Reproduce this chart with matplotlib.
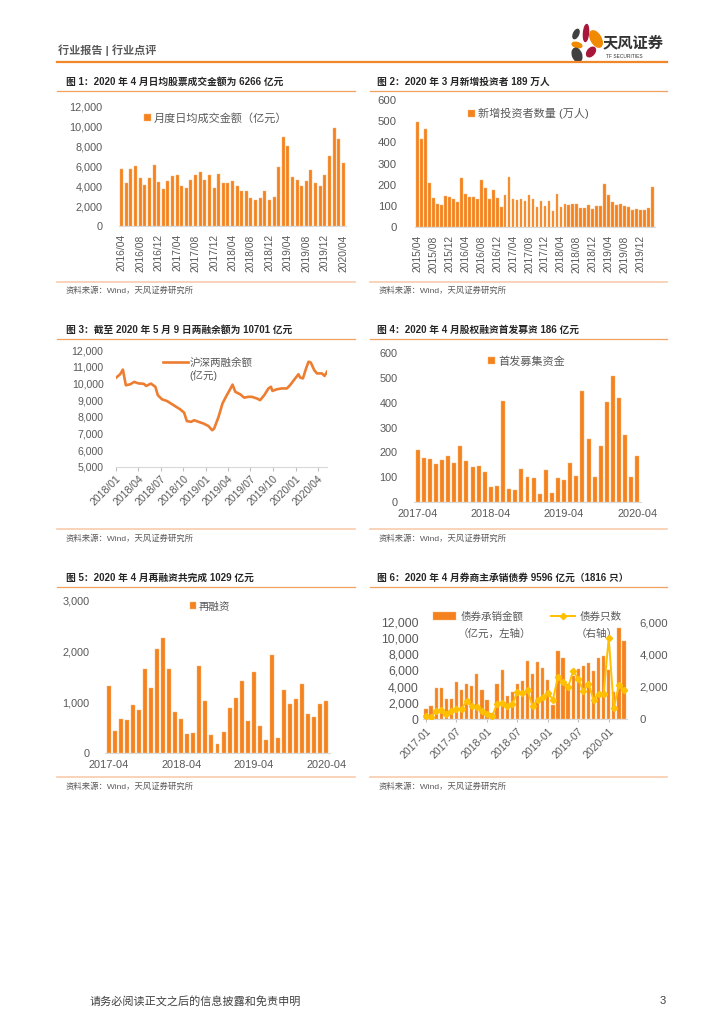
import numpy as np
import pandas as pd
import matplotlib
matplotlib.use("Agg")
import matplotlib.pyplot as plt
from matplotlib.patches import Ellipse
from matplotlib.ticker import FuncFormatter

plt.rcParams['font.family'] = ['Liberation Sans', 'Noto Sans CJK SC', 'DejaVu Sans']

W, H = 724, 1024
ORANGE = '#F4821F'
GREY = '#595959'
TITLE_LINE = '#F0A35E'
SRC_LINE = '#F8CBAD'

# 图1 月度日均成交金额 (亿元), 2016/04 - 2020/04
turnover = [5700, 4300, 5700, 6000, 4850, 4100, 4800, 6150, 4400, 3700, 4500, 5000,
            5100, 4000, 3800, 4600, 5150, 5450, 4650, 5080, 3780, 5180, 4280, 4280,
            4550, 4050, 3480, 3500, 2850, 2580, 2850, 3500, 2650, 2950, 5900, 8900,
            8050, 4900, 4600, 4000, 4500, 5650, 4300, 4050, 5100, 7000, 9800, 8700, 6266]
turnover_ticks = ['2016/04', '2016/08', '2016/12', '2017/04', '2017/08', '2017/12', '2018/04',
                  '2018/08', '2018/12', '2019/04', '2019/08', '2019/12', '2020/04']

# 图2 新增投资者数量 (万人), 2015/04 - 2020/03
investors = [498, 415, 465, 207, 136, 107, 106, 147, 142, 134, 117, 230,
             156, 144, 144, 131, 220, 185, 133, 174, 139, 96, 153, 234,
             130, 126, 133, 123, 150, 133, 96, 123, 98, 123, 74, 156,
             96, 109, 104, 109, 107, 92, 92, 104, 85, 101, 100, 202,
             153, 117, 106, 109, 98, 96, 82, 83, 82, 81, 90, 189]
investor_ticks = ['2015/04', '2015/08', '2015/12', '2016/04', '2016/08', '2016/12', '2017/04',
                  '2017/08', '2017/12', '2018/04', '2018/08', '2018/12', '2019/04', '2019/08',
                  '2019/12']

# 图3 沪深两融余额 (亿元)
margin_dates = ['2018-01-02', '2018-01-18', '2018-01-29', '2018-02-10', '2018-02-28', '2018-03-16',
                '2018-04-03', '2018-04-23', '2018-05-04', '2018-05-23', '2018-06-10', '2018-06-20',
                '2018-07-07', '2018-07-27', '2018-08-23', '2018-09-19', '2018-10-05', '2018-10-16',
                '2018-11-02', '2018-11-15', '2018-12-03', '2018-12-23', '2019-01-12', '2019-01-27',
                '2019-02-04', '2019-02-22', '2019-03-10', '2019-03-24', '2019-04-10', '2019-04-20',
                '2019-05-01', '2019-05-21', '2019-06-06', '2019-06-24', '2019-07-07', '2019-07-28',
                '2019-08-10', '2019-08-27', '2019-09-13', '2019-09-23', '2019-09-29', '2019-10-17',
                '2019-11-06', '2019-11-27', '2019-12-10', '2019-12-28', '2020-01-13', '2020-01-20',
                '2020-01-31', '2020-02-13', '2020-02-23', '2020-03-03', '2020-03-17', '2020-03-28',
                '2020-04-17', '2020-04-28', '2020-05-08']
margin = [10350, 10550, 10830, 9890, 9950, 10090,
          10000, 9980, 9850, 9990, 9800, 9300,
          9050, 8950, 8700, 8450, 8250, 7750,
          7700, 7800, 7700, 7600, 7450, 7200,
          7300, 8000, 8800, 9200, 9650, 9930,
          9500, 9350, 9150, 9200, 9200, 9100,
          9000, 9300, 9700, 9800, 9550, 9650,
          9700, 9700, 9900, 10250, 10550, 10350,
          10300, 10900, 11300, 11250, 10800, 10600,
          10600, 10450, 10701]
margin_ticks = ['2018-01-01', '2018-04-01', '2018-07-01', '2018-10-01', '2019-01-01', '2019-04-01',
                '2019-07-01', '2019-10-01', '2020-01-01', '2020-04-01']
margin_tick_labels = ['2018/01', '2018/04', '2018/07', '2018/10', '2019/01', '2019/04',
                      '2019/07', '2019/10', '2020/01', '2020/04']

# 图4 首发募集资金 (亿元), 2017-04 - 2020-04
ipo = [210, 179, 175, 152, 170, 187, 158, 224, 164, 139, 144, 120,
       59, 65, 406, 54, 49, 133, 101, 98, 31, 128, 36, 96,
       89, 156, 106, 447, 253, 101, 225, 403, 507, 418, 271, 101, 186]
# 图5 再融资 (亿元), 2017-04 - 2020-04
refin = [1320, 425, 675, 655, 950, 840, 1665, 1275, 2050, 2270, 1665, 810,
         675, 380, 385, 1715, 1030, 360, 177, 410, 890, 1085, 1420, 635,
         1600, 537, 262, 1940, 295, 1245, 975, 1065, 1360, 773, 707, 963, 1029]
yearly_ticks = ['2017-04', '2018-04', '2019-04', '2020-04']

# 图6 债券承销金额 (亿元) 与 债券只数, 2017-01 - 2020-04
bond_amt = [1280, 1570, 3800, 3880, 2470, 2430, 4540, 3590, 4370, 4080, 5570, 3590,
            2400, 700, 4300, 6100, 2800, 3300, 4300, 4650, 7200, 5600, 7050, 6300,
            4800, 1700, 8400, 7600, 4300, 5300, 6200, 6500, 6900, 5900, 7500, 7800,
            6100, 3400, 11200, 9596]
bond_cnt = [210, 100, 515, 560, 310, 475, 620, 640, 1090, 800, 720, 475,
            330, 165, 930, 990, 780, 930, 1650, 1610, 1790, 780, 1200, 1340,
            1610, 1200, 2600, 2270, 1980, 2990, 2470, 1710, 2190, 1200, 1550, 1570,
            5010, 680, 2080, 1816]
bond_ticks = ['2017-01', '2017-07', '2018-01', '2018-07', '2019-01', '2019-07', '2020-01']

fig = plt.figure(figsize=(W / 100, H / 100), dpi=100, facecolor='white')
bg = fig.add_axes([0, 0, 1, 1])
bg.set_xlim(0, W)
bg.set_ylim(H, 0)
bg.axis('off')


def add_ax(left, top, right, bottom):
    return fig.add_axes([left / W, 1 - bottom / H, (right - left) / W, (bottom - top) / H])


def fig_anchor(x, y):
    return (x / W, 1 - y / H)


thousands = FuncFormatter(lambda v, p: f'{int(v):,}')


def style(ax, fs=7.8, pad=8):
    for s in ['top', 'right', 'left']:
        ax.spines[s].set_visible(False)
    ax.spines['bottom'].set_color('#D9D9D9')
    ax.spines['bottom'].set_linewidth(0.8)
    ax.tick_params(axis='y', length=0, labelsize=fs, labelcolor=GREY, pad=pad)
    ax.tick_params(axis='x', length=0, labelsize=fs, labelcolor=GREY)
    ax.set_facecolor('none')


def bars(ax, values, ylim, step, width=0.65):
    x = np.arange(len(values))
    b = ax.bar(x, values, width=width, color=ORANGE, edgecolor='#F9B77A', linewidth=0.3)
    ax.set_xlim(-0.6, len(values) - 0.4)
    ax.set_ylim(*ylim)
    ax.set_yticks(np.arange(ylim[0], ylim[1] + 1, step))
    ax.yaxis.set_major_formatter(thousands)
    return b


def square_legend(ax, handle, label, x, y, fs=8):
    ax.legend([handle], [label], loc='upper left', frameon=False,
              bbox_to_anchor=fig_anchor(x, y), bbox_transform=fig.transFigure,
              fontsize=fs, labelcolor=GREY, handlelength=0.6, handleheight=0.6,
              handletextpad=0.3)


# ---- header ----
bg.text(58, 50, '行业报告 | 行业点评', fontsize=8, color=GREY, fontweight='bold', va='center')
bg.plot([57, 667], [62, 62], color='#F0882A', lw=1.6)
petals = [((576, 34), 5, 10, 25, '#404040'), ((586, 33), 5, 17, 5, '#A8173A'),
          ((596, 39), 10, 18, -30, '#F08A00'), ((577, 45), 10, 5, 15, '#F08A00'),
          ((591, 52), 7, 11, 40, '#A8173A'), ((577, 55), 9, 14, -20, '#404040')]
for c, w, h, a, col in petals:
    bg.add_patch(Ellipse(c, w, h, angle=a, color=col))
bg.text(603, 43, '天风证券', fontsize=11, color='#333333', fontweight='bold', va='center')
bg.text(606, 56, 'TF SECURITIES', fontsize=3.5, color='#333333', va='center')

# ---- titles / sources ----
titles = [(66, 82, '图 1：2020 年 4 月日均股票成交金额为 6266 亿元'),
          (377, 82, '图 2：2020 年 3 月新增投资者 189 万人'),
          (66, 330, '图 3：截至 2020 年 5 月 9 日两融余额为 10701 亿元'),
          (377, 330, '图 4：2020 年 4 月股权融资首发募资 186 亿元'),
          (66, 578, '图 5：2020 年 4 月再融资共完成 1029 亿元'),
          (377, 578, '图 6：2020 年 4 月券商主承销债券 9596 亿元（1816 只）')]
for x, y, t in titles:
    bg.text(x, y, t, fontsize=7, fontweight='bold', color='#262626', va='center')
for y_line, y_src, y_title_line in [(282, 291, 91), (529, 539, 339), (777, 787, 587)]:
    for x0, x1 in [(57, 355), (370, 667)]:
        bg.plot([x0, x1], [y_title_line, y_title_line], color=TITLE_LINE, lw=0.9)
        bg.plot([x0, x1], [y_line, y_line], color=SRC_LINE, lw=1.2)
        bg.text(x0 + 9, y_src, '资料来源：Wind，天风证券研究所', fontsize=6, color=GREY, va='center')

bg.text(90, 1001, '请务必阅读正文之后的信息披露和免责申明', fontsize=8, color='#404040', va='center')
bg.text(660, 1001, '3', fontsize=8, color='#404040', va='center')

# ---- chart 1 ----
ax1 = add_ax(119, 106, 346, 226)
style(ax1, pad=12)
b1 = bars(ax1, turnover, (0, 12000), 2000)
ax1.set_xticks(np.arange(0, len(turnover), 4))
ax1.set_xticklabels(turnover_ticks, rotation=90, fontsize=7.4)
ax1.tick_params(axis='x', pad=6)
square_legend(ax1, b1, '月度日均成交金额（亿元）', 134, 103)

# ---- chart 2 ----
ax2 = add_ax(415, 100, 655, 227)
style(ax2, fs=8.2, pad=13)
b2 = bars(ax2, investors, (0, 600), 100, width=0.7)
ax2.set_xticks(np.arange(0, len(investors), 4))
ax2.set_xticklabels(investor_ticks, rotation=90, fontsize=7.4)
ax2.tick_params(axis='x', pad=6)
square_legend(ax2, b2, '新增投资者数量 (万人)', 458, 98)

# ---- chart 3 ----
ax3 = add_ax(116, 350, 327, 467)
style(ax3, fs=7.6, pad=9)
md = pd.to_datetime(margin_dates)
l3, = ax3.plot(md, margin, color='#ED7D31', lw=1.9)
ax3.set_xlim(md[0], md[-1])
ax3.set_ylim(5000, 12000)
ax3.set_yticks(np.arange(5000, 12001, 1000))
ax3.yaxis.set_major_formatter(thousands)
ax3.set_xticks(pd.to_datetime(margin_ticks))
ax3.set_xticklabels(margin_tick_labels, rotation=45, ha='right', rotation_mode='anchor', fontsize=7.6)
ax3.tick_params(axis='x', length=3, color='#BFBFBF', pad=2)
ax3.legend([l3], ['沪深两融余额'], loc='upper left', frameon=False,
           bbox_to_anchor=fig_anchor(153, 348), bbox_transform=fig.transFigure,
           fontsize=7.6, labelcolor=GREY, handlelength=2.4, handletextpad=0.2)
bg.text(189, 376, '(亿元)', fontsize=7.6, color=GREY, va='center')

# ---- chart 4 ----
ax4 = add_ax(414, 353, 641, 502)
style(ax4, pad=12)
b4 = bars(ax4, ipo, (0, 600), 100)
ax4.set_xticks(np.arange(0, len(ipo), 12))
ax4.set_xticklabels(yearly_ticks, fontsize=7.9)
ax4.tick_params(axis='x', pad=5)
square_legend(ax4, b4, '首发募集资金', 478, 346)

# ---- chart 5 ----
ax5 = add_ax(105, 601, 330, 753)
style(ax5, pad=11)
b5 = bars(ax5, refin, (0, 3000), 1000)
ax5.set_xticks(np.arange(0, len(refin), 12))
ax5.set_xticklabels(yearly_ticks, fontsize=7.9)
ax5.tick_params(axis='x', pad=5)
square_legend(ax5, b5, '再融资', 180, 592, fs=7.6)

# ---- chart 6 ----
ax6 = add_ax(423, 622, 627, 719)
style(ax6, fs=8.8, pad=3)
b6 = bars(ax6, bond_amt, (0, 12000), 2000)
ax6.set_xticks(np.arange(0, len(bond_amt), 6))
ax6.set_xticklabels(bond_ticks, rotation=45, ha='right', rotation_mode='anchor', fontsize=7.6)
ax6.tick_params(axis='x', length=2, color='#BFBFBF', pad=3)
ax6r = ax6.twinx()
for s in ['top', 'right', 'left', 'bottom']:
    ax6r.spines[s].set_visible(False)
l6, = ax6r.plot(np.arange(len(bond_cnt)), bond_cnt, color='#FFC000', lw=1.4,
                marker='D', markersize=3.2)
ax6r.set_ylim(0, 6000)
ax6r.set_yticks(np.arange(0, 6001, 2000))
ax6r.yaxis.set_major_formatter(thousands)
ax6r.tick_params(axis='y', length=0, labelsize=8.2, labelcolor=GREY, pad=9)
ax6.legend([b6, l6], ['债券承销金额', '债券只数'], loc='upper left', frameon=False, ncol=2,
           bbox_to_anchor=fig_anchor(423, 602), bbox_transform=fig.transFigure,
           fontsize=7.6, labelcolor=GREY, handlelength=2.2, handleheight=0.7,
           handletextpad=0.5, columnspacing=2.6)
bg.text(458, 634, '（亿元，左轴）', fontsize=7.6, color=GREY, va='center')
bg.text(576, 634, '（右轴）', fontsize=7.6, color=GREY, va='center')

fig.savefig('out.png', dpi=100, facecolor='white')
